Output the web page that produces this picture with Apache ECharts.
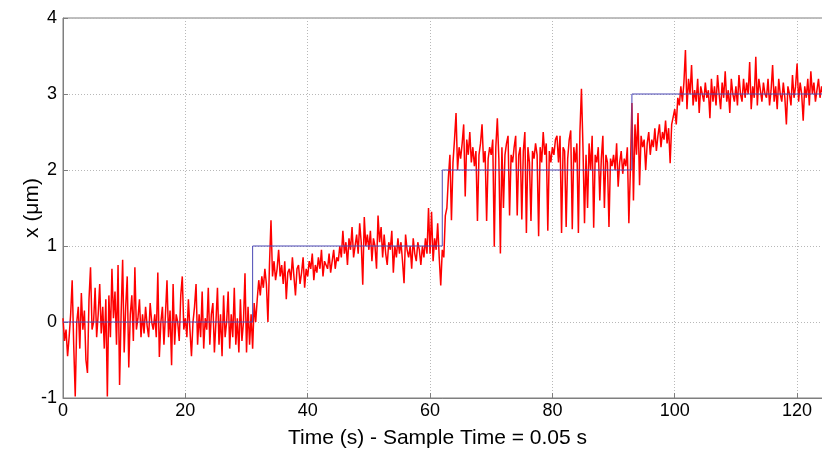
<!DOCTYPE html>
<html>
<head>
<meta charset="utf-8">
<script src="https://cdn.jsdelivr.net/npm/echarts@6/dist/echarts.min.js"></script>
<style>
  html, body { margin: 0; padding: 0; background: #fff; }
  #chart { width: 822px; height: 450px; }
</style>
</head>
<body>
<div id="chart"></div>
<script>
// sample spacing of the read-off signal (s)
var dt = 0.25;

var measured = [
  0.05, -0.25, -0.1, -0.45, -0.2, 0.1, 0.55, -0.3, -0.98, 0.0, 0.2, -0.35, 0.38, -0.1, 0.15, -0.5, -0.67, 0.3, 0.72, -0.1,
  0.0, 0.45, -0.2, 0.1, 0.5, -0.15, 0.2, -0.35, 0.3, -0.98, 0.35, -0.2, 0.7, 0.05, 0.4, -0.3, 0.75, -0.83, 0.1, 0.82,
  -0.4, 0.2, 0.6, -0.6, 0.1, 0.35, -0.25, 0.72, -0.1, 0.05, 0.3, -0.2, 0.1, -0.15, 0.2, -0.05, -0.2, 0.25, 0.0, -0.1,
  0.1, -0.2, 0.65, -0.46, 0.0, 0.2, -0.3, 0.1, 0.55, -0.2, 0.15, -0.57, 0.5, -0.3, 0.1, 0.0, -0.25, 0.35, 0.6, -0.1,
  0.05, -0.2, 0.3, -0.1, -0.45, 0.0, 0.2, 0.5, -0.3, 0.1, -0.2, 0.4, -0.35, 0.05, -0.1, 0.45, -0.3, 0.1, 0.25, -0.4,
  0.0, 0.45, -0.3, 0.1, -0.45, 0.35, -0.2, 0.0, 0.4, -0.35, 0.1, -0.2, 0.45, -0.3, 0.05, -0.4, 0.3, -0.25, 0.0, 0.64,
  -0.4, 0.2, -0.3, 0.1, -0.35, 0.25, 0.0, 0.3, 0.55, 0.35, 0.6, 0.45, 0.7, 0.5, 0.0, 0.75, 1.34, 0.6, 0.8, 0.55,
  0.7, 0.95, 0.6, 0.75, 0.5, 0.8, 0.3, 0.65, 0.7, 0.55, 0.85, 0.6, 0.35, 0.7, 0.75, 0.5, 0.65, 0.85, 0.45, 0.7,
  0.6, 0.8, 0.7, 0.9, 0.55, 0.75, 0.65, 0.85, 0.7, 0.95, 0.6, 0.8, 0.75, 0.7, 0.9, 0.65, 0.8, 0.95, 0.7, 0.85,
  0.8, 1.0, 0.85, 1.2, 0.9, 1.05, 0.75, 1.1, 0.95, 1.25, 0.85, 1.0, 1.15, 0.9, 1.3, 1.05, 0.49, 1.38, 1.0, 1.15,
  0.95, 1.2, 0.8, 1.1, 1.0, 0.7, 1.4, 1.05, 1.25, 0.85, 1.15, 0.9, 0.75, 1.05, 0.95, 1.2, 0.65, 1.0, 0.85, 1.1,
  0.9, 1.05, 0.8, 0.51, 1.15, 0.95, 0.85, 1.0, 0.7, 1.1, 0.9, 0.8, 1.05, 0.95, 0.75, 1.0, 0.85, 1.1, 0.9, 1.5,
  0.9, 1.45, 0.8, 1.1, 0.95, 1.3, 0.85, 0.48, 0.95, 0.85, 1.4, 1.5, 1.9, 2.2, 1.34, 2.1, 2.4, 2.75, 2.0, 2.3,
  2.15, 2.35, 2.6, 1.65, 2.4, 2.2, 2.5, 2.1, 2.3, 2.05, 2.25, 1.33, 2.2, 2.35, 2.6, 2.1, 2.25, 1.33, 2.15, 2.3,
  2.2, 2.4, 0.99, 2.3, 2.68, 2.15, 0.9, 2.3, 1.5, 2.2, 2.35, 2.45, 1.4, 2.2, 2.1, 2.3, 2.45, 1.4, 2.2, 2.3,
  1.35, 2.25, 2.5, 1.17, 2.3, 2.1, 1.33, 2.25, 2.15, 2.35, 2.2, 1.13, 2.3, 2.1, 2.5, 2.2, 2.35, 1.2, 2.25, 2.1,
  2.3, 2.2, 2.4, 2.45, 2.1, 2.45, 1.17, 2.3, 2.25, 1.25, 2.15, 2.4, 2.52, 1.22, 2.3, 2.1, 2.35, 1.17, 2.5, 3.07,
  2.3, 1.3, 2.2, 1.5, 2.35, 2.0, 2.45, 1.24, 2.2, 2.1, 2.3, 1.6, 2.15, 2.45, 1.5, 2.2, 2.1, 1.25, 2.15, 2.05,
  2.2, 2.0, 2.35, 1.78, 2.1, 2.25, 1.95, 2.15, 2.05, 2.3, 1.3, 2.0, 2.88, 1.6, 2.6, 2.2, 2.75, 1.8, 2.45, 2.3,
  2.4, 2.0, 2.35, 2.5, 2.2, 2.4, 2.3, 2.55, 2.25, 2.45, 2.6, 2.3, 2.5, 2.4, 2.65, 2.35, 2.55, 2.09, 2.6, 2.7,
  2.8, 2.6, 2.95, 2.85, 3.1, 2.9, 3.15, 3.58, 2.8, 3.2, 3.0, 3.38, 2.85, 3.05, 2.9, 3.2, 2.75, 3.1, 3.0, 2.9,
  3.15, 2.95, 3.05, 2.68, 3.2, 2.9, 3.1, 2.85, 3.25, 3.0, 2.8, 3.15, 2.95, 3.3, 2.9, 3.05, 2.75, 3.2, 3.0, 2.9,
  3.1, 2.85, 3.25, 3.0, 2.9, 3.2, 2.95, 3.15, 3.0, 3.42, 2.8, 3.1, 2.95, 3.49, 2.85, 3.2, 3.05, 2.9, 3.15, 3.0,
  2.95, 3.2, 2.85, 3.05, 3.38, 2.9, 3.1, 2.8, 3.2, 3.0, 2.9, 3.15, 2.95, 2.6, 3.1, 3.0, 2.85, 3.25, 2.95, 3.1,
  3.4, 2.9, 3.15, 3.0, 2.65, 3.1, 2.95, 3.2, 2.85, 3.3, 3.0, 3.15, 2.9, 3.05, 3.2, 2.95, 3.1, 3.0, 3.05, 2.95
];

// reference set point (um) and the times where it switches
var refTimes = [0, 31, 62, 93, 125];
var refValues = [0, 1, 2, 3, 3];

var measuredData = measured.map(function (v, i) { return [i * dt, v]; });
var refData = refTimes.map(function (t, i) { return [t, refValues[i]]; });

var font = '"Liberation Sans", Arial, sans-serif';

var chart = echarts.init(document.getElementById('chart'));
chart.setOption({
  backgroundColor: '#fff',
  animation: false,
  grid: {
    left: 63, right: -2, top: 18, bottom: 52,
    outerBoundsMode: 'none', containLabel: false,
    show: true, borderColor: '#7f7f7f', borderWidth: 1
  },
  xAxis: {
    type: 'value', min: 0, max: 124.4, interval: 20,
    name: 'Time (s) - Sample Time = 0.05 s',
    nameLocation: 'middle', nameGap: 30, nameMoveOverlap: false,
    nameTextStyle: { fontFamily: font, fontSize: 21, color: '#000', padding: [0, 12, 0, 0] },
    axisLine: { show: true, onZero: false, lineStyle: { color: '#7f7f7f', width: 1 } },
    axisTick: { inside: true, length: 5, lineStyle: { color: '#7f7f7f' } },
    axisLabel: { fontFamily: font, fontSize: 18, color: '#000', margin: 4,
      showMaxLabel: false },
    splitLine: { show: true, lineStyle: { color: '#b8b8b8', type: [1, 2], width: 1 } }
  },
  yAxis: {
    type: 'value', min: -1, max: 4, interval: 1,
    name: 'x (\u03bcm)',
    nameLocation: 'middle', nameGap: 20, nameRotate: 90, nameMoveOverlap: false,
    nameTextStyle: { fontFamily: font, fontSize: 21, color: '#000' },
    axisLine: { show: true, onZero: false, lineStyle: { color: '#7f7f7f', width: 1 } },
    axisTick: { inside: true, length: 5, lineStyle: { color: '#7f7f7f' } },
    axisLabel: { fontFamily: font, fontSize: 18, color: '#000', margin: 6 },
    splitLine: { show: true, lineStyle: { color: '#b8b8b8', type: [1, 2], width: 1 } }
  },
  series: [
    {
      type: 'line', data: measuredData, showSymbol: false,
      lineStyle: { color: '#ff0000', width: 1.5 }, z: 2
    },
    {
      type: 'line', data: refData, step: 'end', showSymbol: false,
      lineStyle: { color: '#4b47b5', width: 1 }, z: 3
    }
  ]
});
</script>
</body>
</html>
